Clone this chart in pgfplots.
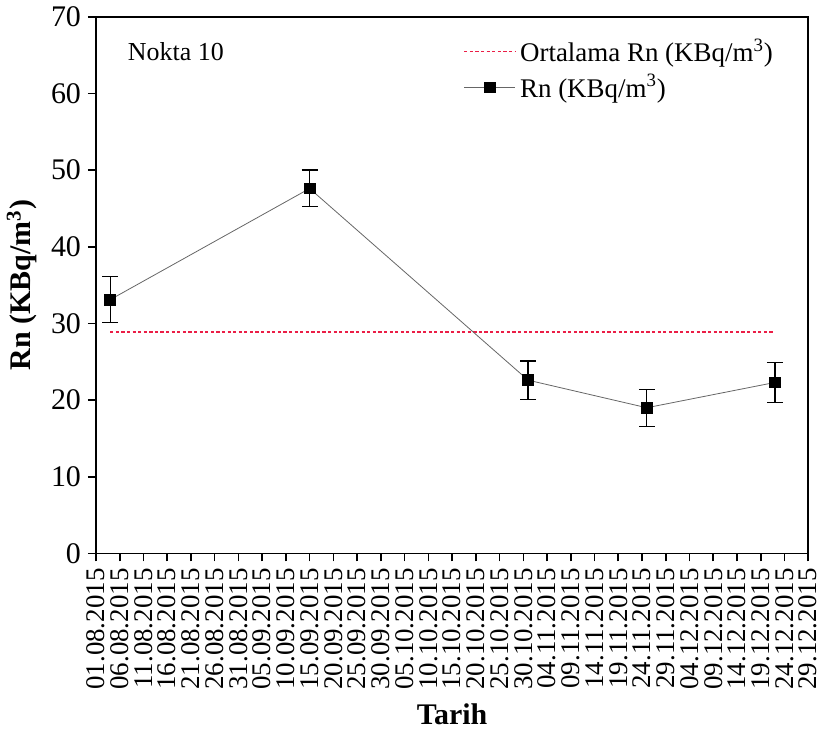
\documentclass[border=0pt]{standalone}
\usepackage{fontspec}
\setmainfont{Liberation Serif}
\usepackage{pgfplots}
\pgfplotsset{compat=1.18}
\definecolor{meanred}{RGB}{235,30,70}
\pgfplotstableread{
x y e
3 33.1 3.0
45 47.6 2.4
91 22.6 2.5
116 19.0 2.4
143 22.3 2.6
}\rndata
\begin{document}
\begin{tikzpicture}
\begin{axis}[
 scale only axis, width=357pt, height=269pt,
 xmin=0, xmax=150, ymin=0, ymax=70,
 xtick={0,5,...,150},
 xticklabels={01.08.2015,06.08.2015,11.08.2015,16.08.2015,21.08.2015,26.08.2015,31.08.2015,05.09.2015,10.09.2015,15.09.2015,20.09.2015,25.09.2015,30.09.2015,05.10.2015,10.10.2015,15.10.2015,20.10.2015,25.10.2015,30.10.2015,04.11.2015,09.11.2015,14.11.2015,19.11.2015,24.11.2015,29.11.2015,04.12.2015,09.12.2015,14.12.2015,19.12.2015,24.12.2015,29.12.2015},
 x tick label style={rotate=90, anchor=east, font=\fontsize{13.5}{16}\selectfont},
 ytick={0,10,...,70},
 y tick label style={font=\fontsize{15}{18}\selectfont},
 /pgf/number format/assume math mode=true,
 tick align=outside, xtick pos=bottom, ytick pos=left,
 major tick length=4pt,
 axis line style={line width=0.8pt},
 tick style={line width=0.8pt, black},
 xlabel={Tarih}, ylabel={Rn (KBq/m\textsuperscript{3})},
 label style={font=\fontsize{15}{18}\selectfont\bfseries},
 legend style={at={(0.965,0.975)}, anchor=north east, draw=none, fill=none, font=\fontsize{13.5}{16}\selectfont, row sep=1pt, cells={anchor=west}},
 legend image code/.code={\draw[mark repeat=2,mark phase=2,#1] plot coordinates {(0cm,0cm) (0.45cm,0cm) (0.9cm,0cm)};},
]
\addplot[meanred, dash pattern=on 1.6pt off 1.2pt, line width=0.8pt] coordinates {(3,28.9) (143,28.9)};
\addlegendentry{Ortalama Rn (KBq/m\textsuperscript{3})}
\addplot[gray!80!black, line width=0.4pt, mark=square*, mark size=2.7pt, mark options={black, solid},
 error bars/.cd, y dir=both, y explicit,
 error bar style={black, line width=0.6pt},
 error mark options={rotate=90, mark size=4pt, black, line width=0.6pt}]
 table[x=x, y=y, y error=e] {\rndata};
\addlegendentry{Rn (KBq/m\textsuperscript{3})}
\node[anchor=west, font=\fontsize{13}{15}\selectfont] at (rel axis cs:0.035,0.935) {Nokta 10};
\end{axis}
\end{tikzpicture}
\end{document}
